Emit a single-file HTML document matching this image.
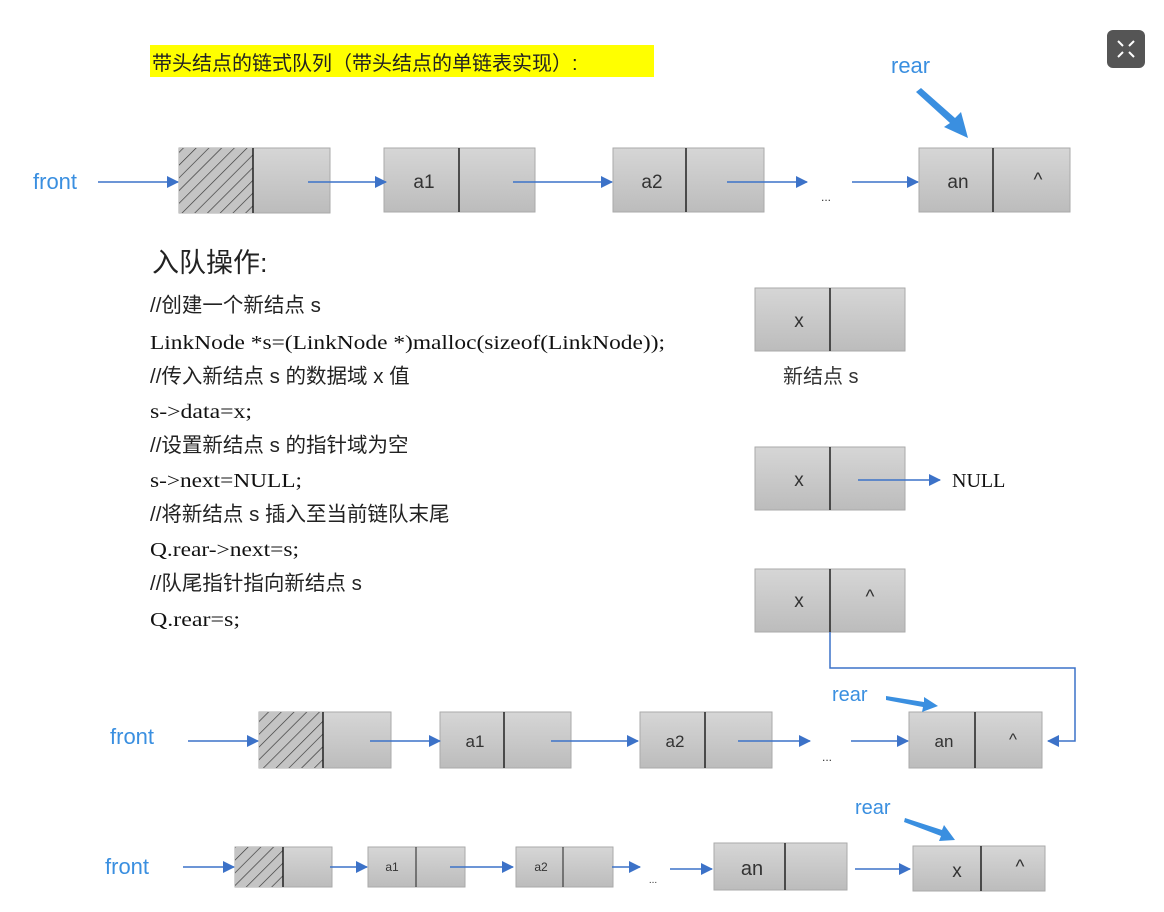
<!DOCTYPE html>
<html><head><meta charset="utf-8"><style>
html,body{margin:0;padding:0;background:#fff}
svg{display:block}
.s{font-family:"Liberation Sans","Noto Sans CJK SC",sans-serif}
.r{font-family:"Liberation Serif","Noto Serif CJK SC",serif}
</style></head><body>
<svg width="1164" height="912" viewBox="0 0 1164 912" xmlns="http://www.w3.org/2000/svg">
<defs>
<linearGradient id="g" x1="0" y1="0" x2="0" y2="1"><stop offset="0" stop-color="#d6d6d6"/><stop offset="1" stop-color="#bcbcbc"/></linearGradient>
<pattern id="h" width="9" height="9" patternUnits="userSpaceOnUse" patternTransform="rotate(45)"><rect width="9" height="9" fill="#c4c4c4"/><line x1="0" y1="0" x2="0" y2="9" stroke="#333" stroke-width="1.3"/></pattern>
<marker id="a" markerWidth="12" markerHeight="12" refX="11" refY="6" orient="auto" markerUnits="userSpaceOnUse"><path d="M0,0 L12,6 L0,12z" fill="#3c72c8"/></marker>
</defs>
<g class="s">
<rect x="150" y="45" width="504" height="32" fill="#ffff00"/>
<text x="152" y="70" font-size="20" fill="#222">带头结点的链式队列（带头结点的单链表实现）:</text>
<rect x="1107" y="30" width="38" height="38" rx="6" fill="#555"/>
<g stroke="#fff" stroke-width="2" fill="none"><path d="M1118,41 l5,5 M1134,41 l-5,5 M1118,57 l5,-5 M1134,57 l-5,-5"/></g>
</g>
<g stroke="#aaa" stroke-width="1">
<rect x="179" y="148" width="151" height="65" fill="url(#g)"/><rect x="179" y="148" width="74" height="65" fill="url(#h)" stroke="none"/>
<rect x="384" y="148" width="151" height="64" fill="url(#g)"/>
<rect x="613" y="148" width="151" height="64" fill="url(#g)"/>
<rect x="919" y="148" width="151" height="64" fill="url(#g)"/>
<rect x="755" y="288" width="150" height="63" fill="url(#g)"/>
<rect x="755" y="447" width="150" height="63" fill="url(#g)"/>
<rect x="755" y="569" width="150" height="63" fill="url(#g)"/>
<rect x="259" y="712" width="132" height="56" fill="url(#g)"/><rect x="259" y="712" width="64" height="56" fill="url(#h)" stroke="none"/>
<rect x="440" y="712" width="131" height="56" fill="url(#g)"/>
<rect x="640" y="712" width="132" height="56" fill="url(#g)"/>
<rect x="909" y="712" width="133" height="56" fill="url(#g)"/>
<rect x="235" y="847" width="97" height="40" fill="url(#g)"/><rect x="235" y="847" width="48" height="40" fill="url(#h)" stroke="none"/>
<rect x="368" y="847" width="97" height="40" fill="url(#g)"/>
<rect x="516" y="847" width="97" height="40" fill="url(#g)"/>
<rect x="714" y="843" width="133" height="47" fill="url(#g)"/>
<rect x="913" y="846" width="132" height="45" fill="url(#g)"/>
</g>
<g stroke="#222" stroke-width="1.5">
<line x1="253" y1="148" x2="253" y2="213"/><line x1="459" y1="148" x2="459" y2="212"/><line x1="686" y1="148" x2="686" y2="212"/><line x1="993" y1="148" x2="993" y2="212"/>
<line x1="830" y1="288" x2="830" y2="351"/><line x1="830" y1="447" x2="830" y2="510"/><line x1="830" y1="569" x2="830" y2="632"/>
<line x1="323" y1="712" x2="323" y2="768"/><line x1="504" y1="712" x2="504" y2="768"/><line x1="705" y1="712" x2="705" y2="768"/><line x1="975" y1="712" x2="975" y2="768"/>
<line x1="283" y1="847" x2="283" y2="887"/><line x1="416" y1="847" x2="416" y2="887" stroke-width="1"/><line x1="563" y1="847" x2="563" y2="887" stroke-width="1"/><line x1="785" y1="843" x2="785" y2="890"/><line x1="981" y1="846" x2="981" y2="891"/>
</g>
<g stroke="#3c72c8" stroke-width="1.5" fill="none" marker-end="url(#a)">
<line x1="98" y1="182" x2="178" y2="182"/><line x1="308" y1="182" x2="386" y2="182"/><line x1="513" y1="182" x2="612" y2="182"/><line x1="727" y1="182" x2="807" y2="182"/><line x1="852" y1="182" x2="918" y2="182"/>
<line x1="858" y1="480" x2="940" y2="480"/>
<polyline points="830,632 830,668 1075,668 1075,741 1048,741"/>
<line x1="188" y1="741" x2="258" y2="741"/><line x1="370" y1="741" x2="440" y2="741"/><line x1="551" y1="741" x2="638" y2="741"/><line x1="738" y1="741" x2="810" y2="741"/><line x1="851" y1="741" x2="908" y2="741"/>
<line x1="183" y1="867" x2="234" y2="867"/><line x1="330" y1="867" x2="367" y2="867"/><line x1="450" y1="867" x2="513" y2="867"/><line x1="612" y1="867" x2="640" y2="867"/><line x1="670" y1="869" x2="712" y2="869"/><line x1="855" y1="869" x2="910" y2="869"/>
</g>
<path d="M916,92 L921,88 L955,118 L961,112 L968,138 L944,127 L950,123 Z" fill="#3a8fe0"/>
<path d="M886,696 L924,702 L924,697 L938,706 L922,712 L923,707 L886,700z" fill="#3a8fe0"/>
<path d="M905,818 L942,830 L944,825 L955,840 L939,841 L941,836 L904,822z" fill="#3a8fe0"/>
<g class="s" fill="#3a8fe0" font-size="22">
<text x="33" y="189">front</text><text x="891" y="73">rear</text>
<text x="110" y="744">front</text><text x="832" y="701" font-size="20">rear</text>
<text x="105" y="874">front</text><text x="855" y="814" font-size="20">rear</text>
</g>
<g class="s" fill="#333" font-size="19" text-anchor="middle">
<text x="424" y="188">a1</text><text x="652" y="188">a2</text><text x="958" y="188">an</text><text x="1038" y="186">^</text>
<text x="826" y="201" font-size="12">...</text>
<text x="799" y="327">x</text><text x="799" y="486">x</text><text x="799" y="607">x</text><text x="870" y="603">^</text>
<text x="475" y="747" font-size="17">a1</text><text x="675" y="747" font-size="17">a2</text><text x="944" y="747" font-size="17">an</text><text x="1013" y="745" font-size="17">^</text>
<text x="827" y="761" font-size="12">...</text>
<text x="392" y="871" font-size="12">a1</text><text x="541" y="871" font-size="12">a2</text><text x="653" y="883" font-size="10">...</text>
<text x="752" y="875" font-size="20">an</text><text x="957" y="877">x</text><text x="1020" y="873">^</text>
</g>
<g class="s" fill="#222">
<text x="152" y="272" font-size="27">入队操作:</text>
<g font-size="20.5"><text x="150" y="312">//创建一个新结点 s</text><text x="150" y="383">//传入新结点 s 的数据域 x 值</text><text x="150" y="452">//设置新结点 s 的指针域为空</text><text x="150" y="521">//将新结点 s 插入至当前链队末尾</text><text x="150" y="590">//队尾指针指向新结点 s</text>
<text x="783" y="383" fill="#333" font-size="20">新结点 s</text></g>
</g>
<g class="r" fill="#111" font-size="20">
<text x="150" y="349" textLength="515" lengthAdjust="spacingAndGlyphs">LinkNode *s=(LinkNode *)malloc(sizeof(LinkNode));</text>
<text x="150" y="418" textLength="102" lengthAdjust="spacingAndGlyphs">s-&gt;data=x;</text>
<text x="150" y="487" textLength="152" lengthAdjust="spacingAndGlyphs">s-&gt;next=NULL;</text>
<text x="150" y="556" textLength="149" lengthAdjust="spacingAndGlyphs">Q.rear-&gt;next=s;</text>
<text x="150" y="626" textLength="90" lengthAdjust="spacingAndGlyphs">Q.rear=s;</text>
<text x="952" y="487">NULL</text>
</g>
</svg>
</body></html>
